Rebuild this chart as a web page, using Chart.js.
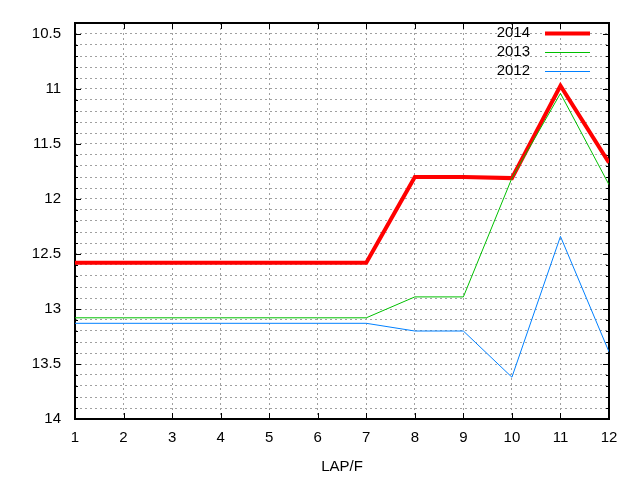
<!DOCTYPE html>
<html>
<head>
<meta charset="utf-8">
<title>LAP/F</title>
<script src="https://cdn.jsdelivr.net/npm/chart.js@4/dist/chart.umd.min.js"></script>
<style>
  body { margin: 0; background: #ffffff; }
  canvas { display: block; }
</style>
</head>
<body>
<canvas id="lapChart" width="640" height="480"></canvas>
<script>
// data
const laps = [1, 2, 3, 4, 5, 6, 7, 8, 9, 10, 11, 12];
const series2014 = [12.58, 12.58, 12.58, 12.58, 12.58, 12.58, 12.58, 11.80, 11.80, 11.81, 10.97, 11.67];
const series2013 = [13.08, 13.08, 13.08, 13.08, 13.08, 13.08, 13.08, 12.89, 12.89, 11.81, 11.04, 11.87];
const series2012 = [13.13, 13.13, 13.13, 13.13, 13.13, 13.13, 13.13, 13.20, 13.20, 13.62, 12.34, 13.39];
const seriesNames = ['2014', '2013', '2012'];
const yLabelTicks = [10.5, 11, 11.5, 12, 12.5, 13, 13.5, 14];

const FONT = { family: '"Liberation Sans", Arial, sans-serif', size: 15 };

function toPoints(values) {
    return values.map((v, i) => ({ x: laps[i], y: v }));
}

function isLabelTick(v) {
    return yLabelTicks.some(t => Math.abs(t - v) < 1e-6);
}

// gnuplot style frame with inward ticks on all four sides
const framePlugin = {
    id: 'frame',
    beforeDatasetsDraw(chart) {
        const { ctx, chartArea: a, scales } = chart;
        ctx.save();
        ctx.strokeStyle = '#000000';
        ctx.lineWidth = 1;
        ctx.beginPath();
        scales.y.ticks.forEach(t => {
            const py = Math.round(scales.y.getPixelForValue(t.value)) + 0.5;
            const len = isLabelTick(t.value) ? 6 : 3;
            ctx.moveTo(a.left, py); ctx.lineTo(a.left + len, py);
            ctx.moveTo(a.right, py); ctx.lineTo(a.right - len, py);
        });
        scales.x.ticks.forEach(t => {
            const px = Math.round(scales.x.getPixelForValue(t.value)) + 0.5;
            ctx.moveTo(px, a.bottom); ctx.lineTo(px, a.bottom - 6);
            ctx.moveTo(px, a.top); ctx.lineTo(px, a.top + 6);
        });
        ctx.stroke();
        ctx.lineWidth = 2;
        ctx.strokeRect(a.left, a.top, a.right - a.left, a.bottom - a.top);
        ctx.restore();
    },
    afterDraw(chart) {
        const { ctx } = chart;
        ctx.save();
        ctx.font = FONT.size + 'px ' + FONT.family;
        ctx.textAlign = 'right';
        ctx.textBaseline = 'middle';
        chart.data.datasets.forEach((ds, i) => {
            const y = 33 + i * 19;
            ctx.fillStyle = '#000000';
            ctx.fillText(ds.label, 530, y);
            ctx.strokeStyle = ds.borderColor;
            ctx.lineWidth = ds.borderWidth;
            ctx.beginPath();
            ctx.moveTo(545, y + 0.5);
            ctx.lineTo(590, y + 0.5);
            ctx.stroke();
        });
        ctx.restore();
    }
};

const ctx = document.getElementById('lapChart').getContext('2d');
const lapChart = new Chart(ctx, {
    type: 'line',
    data: {
        datasets: [
            { label: seriesNames[0], data: toPoints(series2014), borderColor: '#ff0000', borderWidth: 4, order: 3 },
            { label: seriesNames[1], data: toPoints(series2013), borderColor: '#00c000', borderWidth: 1, order: 2 },
            { label: seriesNames[2], data: toPoints(series2012), borderColor: '#0080ff', borderWidth: 1, order: 1 }
        ]
    },
    options: {
        responsive: false,
        animation: false,
        devicePixelRatio: 1,
        layout: { padding: { top: 20, right: 31, left: 0, bottom: 0 } },
        elements: {
            point: { radius: 0 },
            line: { tension: 0, borderJoinStyle: 'miter' }
        },
        plugins: {
            legend: { display: false },
            tooltip: { enabled: false }
        },
        scales: {
            x: {
                type: 'linear',
                min: 1,
                max: 12,
                afterFit: (scale) => { scale.height = 61; },
                ticks: { stepSize: 1, color: '#000000', font: FONT, padding: 10, maxRotation: 0 },
                grid: { color: '#a0a0a0', lineWidth: 1, drawTicks: false },
                border: { display: false, dash: [2, 3] },
                title: { display: true, text: 'LAP/F', color: '#000000', font: FONT, padding: 4 }
            },
            y: {
                type: 'linear',
                min: 10.4,
                max: 14,
                reverse: true,
                afterFit: (scale) => { scale.width = 75; },
                ticks: {
                    stepSize: 0.1,
                    autoSkip: false,
                    color: '#000000',
                    font: FONT,
                    padding: 14,
                    callback: (v) => isLabelTick(v) ? String(Math.round(v * 10) / 10) : ''
                },
                grid: { color: '#a0a0a0', lineWidth: 1, drawTicks: false },
                border: { display: false, dash: [2, 3] }
            }
        }
    },
    plugins: [framePlugin]
});
</script>
</body>
</html>
